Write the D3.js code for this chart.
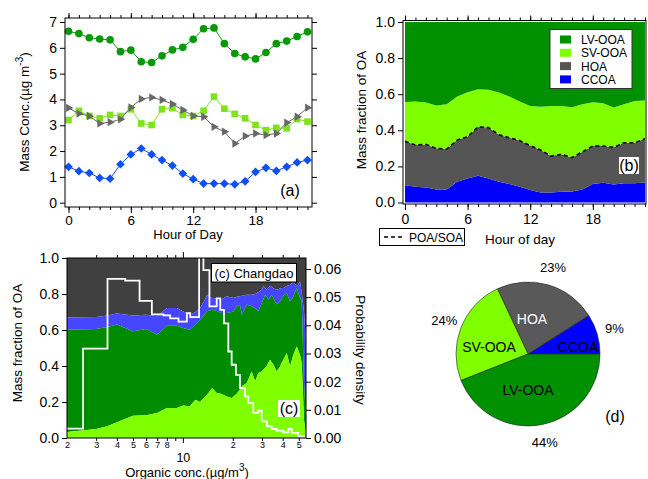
<!DOCTYPE html>
<html>
<head>
<meta charset="utf-8">
<script src="https://cdn.jsdelivr.net/npm/d3@7"></script>
<style>
  body { margin: 0; background: #fff; }
  svg { font-family: "Liberation Sans", Arial, sans-serif; }
</style>
</head>
<body>
<svg id="fig" width="648" height="479"></svg>
<script>
// ---------- data ----------
// (a) diurnal mass concentrations, ug m-3
var hours = [0,1,2,3,4,5,6,7,8,9,10,11,12,13,14,15,16,17,18,19,20,21,22,23];
var lvConc   = [6.64,6.55,6.39,6.34,6.31,5.85,5.91,5.46,5.43,5.69,5.92,6.02,6.33,6.74,6.77,6.16,5.78,5.65,5.57,5.82,6.16,6.26,6.44,6.62];
var svConc   = [3.20,3.56,3.36,3.27,3.40,3.36,3.62,3.07,3.01,3.62,3.66,3.40,3.36,3.56,4.11,3.64,3.44,3.27,3.01,2.81,2.90,2.88,3.24,3.14];
var hoaConc  = [3.67,3.45,3.36,3.07,3.12,3.23,3.69,4.02,4.08,3.98,3.82,3.59,3.36,3.33,2.94,2.75,2.29,2.58,2.68,2.62,2.68,3.10,3.33,3.68];
var ccoaConc = [1.39,1.22,1.15,0.96,0.93,1.49,1.87,2.10,1.87,1.65,1.44,1.13,0.91,0.74,0.74,0.74,0.71,0.83,1.19,1.35,1.23,1.39,1.56,1.65];

// (b) diurnal mass fractions
var ccoaFrac = [.096,.087,.083,.072,.072,.115,.133,.148,.133,.115,.102,.087,.069,.056,.056,.059,.061,.072,.102,.109,.100,.106,.107,.111];
var hoaFrac  = [.243,.232,.239,.228,.224,.231,.232,.271,.282,.261,.257,.256,.246,.235,.201,.208,.187,.209,.211,.204,.206,.225,.224,.243];
var svFrac   = [.218,.240,.232,.237,.248,.241,.246,.209,.209,.233,.228,.216,.220,.240,.278,.268,.280,.263,.243,.237,.220,.213,.232,.211];
var lvFrac   = [.443,.441,.446,.463,.456,.413,.389,.372,.376,.391,.413,.441,.465,.469,.465,.465,.472,.456,.444,.450,.474,.456,.437,.435];

// (c) fractions vs organic concentration (cumulative layer tops)
var orgConc  = [2,3,3.5,4,5,6,7,8,9.2,10,11,11.9,12.7,13.6,14,15,16,17,18.4,19.7,20.2,21.1,22.1,22.7,24.3,26,27.3,28.5,29.9,30.6,31.3,32,32.8,33.6,34.4,35.2,36.8,38.6,39.5,40.4,42.3,44.3,46.4,48.6,50.9,52.1,53.8,55.3];
var svTop    = [.033,.05,.065,.087,.124,.126,.139,.167,.167,.18,.176,.213,.20,.23,.24,.278,.25,.246,.23,.222,.23,.246,.27,.287,.305,.37,.315,.361,.37,.38,.39,.398,.42,.435,.42,.407,.37,.398,.42,.435,.472,.398,.463,.509,.463,.417,.1,.02];
var lvTop    = [.602,.605,.617,.63,.593,.605,.574,.624,.624,.611,.602,.63,.657,.69,.704,.713,.705,.694,.694,.70,.704,.73,.74,.685,.741,.731,.72,.704,.75,.77,.796,.785,.769,.78,.796,.775,.741,.76,.778,.79,.806,.759,.787,.833,.778,.76,.3,.1];
var ccoaTop  = [.67,.672,.68,.691,.68,.685,.676,.722,.722,.704,.685,.70,.722,.77,.796,.778,.775,.769,.787,.78,.778,.785,.787,.79,.796,.796,.80,.81,.824,.846,.835,.824,.835,.846,.84,.83,.824,.83,.833,.833,.845,.852,.87,.843,.87,.806,.7,.53];
// probability density histogram
var pdfEdges   = [2.0,2.5,3.51,4.49,5.48,6.5,7.64,8.38,9.41,10.57,11.07,12.53,13.3,14.46,16.0,16.8,17.7,18.8,19.7,20.9,22.1,23.7,24.8,26.6,28.5,29.9,32.1,34.4,36.8,40.4,43.3,45.4,49.7,54.5];
var pdfDensity = [.0033,.0317,.0565,.0559,.0487,.0439,.0435,.0425,.0413,.0443,.0429,.068,.0596,.0467,.0496,.0455,.0407,.0307,.026,.0224,.0177,.0148,.0124,.0089,.0097,.0059,.0041,.0032,.0026,.002,.0032,.0018,.0006];

// (d) average composition, %
var pieNames = ["CCOA","HOA","SV-OOA","LV-OOA"];
var piePct   = [9,23,24,44];

// ---------- helpers ----------
var FONT = '"Liberation Sans", Arial, sans-serif';
var svg = d3.select("#fig");

function styleAxis(g, size) {
  g.select(".domain").remove();
  g.attr("font-family", FONT).attr("font-size", size || 14);
  g.selectAll("line").attr("stroke", "#000");
  g.selectAll("text").attr("fill", "#000");
}
function frame(x0, y0, x1, y1) {
  svg.append("rect").attr("x", x0).attr("y", y0)
    .attr("width", x1 - x0).attr("height", y1 - y0)
    .attr("fill", "none").attr("stroke", "#000").attr("stroke-width", 1);
}
function label(x, y, txt, size, rot, anchor) {
  var t = svg.append("text").attr("font-size", size).attr("text-anchor", anchor || "middle")
    .attr("transform", "translate(" + x + "," + y + ")" + (rot ? " rotate(" + rot + ")" : ""));
  t.text(txt);
  return t;
}
var majorH = [0, 6, 12, 18];

// ---------- panel (a) ----------
var ax = d3.scaleLinear().domain([0, 23]).range([68.5, 307.5]);
var ay = d3.scaleLinear().domain([0, 7]).range([202.7, 22]);

var seriesA = [
  { v: lvConc,   color: "#079907", sym: d3.symbolCircle, size: 46, rot: 0 },
  { v: svConc,   color: "#7fe31c", sym: d3.symbolSquare, size: 44, rot: 0 },
  { v: hoaConc,  color: "#686868", sym: d3.symbolTriangle, size: 30, rot: 90 },
  { v: ccoaConc, color: "#0f4ff5", sym: d3.symbolSquare, size: 38, rot: 45 }
];
seriesA.forEach(function (s) {
  var line = d3.line().x(function (d, i) { return ax(hours[i]); }).y(function (d) { return ay(d); });
  svg.append("path").attr("d", line(s.v)).attr("fill", "none").attr("stroke", s.color).attr("stroke-width", 1);
  svg.append("g").selectAll("path").data(s.v).enter().append("path")
    .attr("d", d3.symbol().type(s.sym).size(s.size))
    .attr("transform", function (d, i) { return "translate(" + ax(hours[i]) + "," + ay(d) + ") rotate(" + s.rot + ")"; })
    .attr("fill", s.color);
});
frame(65, 18, 312, 207);
svg.append("g").attr("transform", "translate(65,0)")
  .call(d3.axisLeft(ay).tickValues([0,1,2,3,4,5,6,7]).tickSize(5).tickPadding(3).tickFormat(d3.format("d")))
  .call(styleAxis);
svg.append("g").attr("transform", "translate(312,0)")
  .call(d3.axisRight(ay).tickValues([0,1,2,3,4,5,6,7]).tickSize(5).tickFormat(""))
  .call(styleAxis);
svg.append("g").attr("transform", "translate(0,207)")
  .call(d3.axisBottom(ax).tickValues(hours).tickSize(3).tickFormat("")).call(styleAxis);
svg.append("g").attr("transform", "translate(0,207)")
  .call(d3.axisBottom(ax).tickValues(majorH).tickSize(6).tickPadding(2))
  .call(function (g) { styleAxis(g, 13.5); });
svg.append("g").attr("transform", "translate(0,18)")
  .call(d3.axisTop(ax).tickValues(hours).tickSize(3).tickFormat("")).call(styleAxis);
svg.append("g").attr("transform", "translate(0,18)")
  .call(d3.axisTop(ax).tickValues(majorH).tickSize(5).tickFormat("")).call(styleAxis);
label(188, 239, "Hour of Day", 13);
var ya = label(29, 112, "Mass Conc.(\u00b5g m", 13.5, -90);
ya.append("tspan").attr("dy", -6).attr("font-size", 10).text("-3");
ya.append("tspan").attr("dy", 6).text(")");
label(290, 196, "(a)", 16);

// ---------- panel (b) ----------
var bx = d3.scaleLinear().domain([0, 23]).range([405, 645]);
var by = d3.scaleLinear().domain([0, 1]).range([202.5, 22]);
var rowsB = hours.map(function (h, i) {
  return { h: h, ccoa: ccoaFrac[i], hoa: hoaFrac[i], sv: svFrac[i], lv: lvFrac[i] };
});
var keysB = ["ccoa", "hoa", "sv", "lv"];
var colB = { ccoa: "#0000ff", hoa: "#555555", sv: "#80ff00", lv: "#009000" };
var stackB = d3.stack().keys(keysB)(rowsB);
var areaB = d3.area().x(function (d) { return bx(d.data.h); })
  .y0(function (d) { return by(d[0]); }).y1(function (d) { return by(d[1]); });
svg.append("g").selectAll("path").data(stackB).enter().append("path")
  .attr("d", areaB).attr("fill", function (d) { return colB[d.key]; });
var poaLine = d3.line().x(function (d) { return bx(d.data.h); }).y(function (d) { return by(d[1]); });
svg.append("path").attr("d", poaLine(stackB[1])).attr("fill", "none")
  .attr("stroke", "#000").attr("stroke-width", 1.5).attr("stroke-dasharray", "4,3");
frame(403, 20.5, 646, 204);
svg.append("g").attr("transform", "translate(403,0)")
  .call(d3.axisLeft(by).tickValues([0, .2, .4, .6, .8, 1]).tickSize(5).tickPadding(3).tickFormat(d3.format(".1f")))
  .call(styleAxis);
svg.append("g").attr("transform", "translate(0,204)")
  .call(d3.axisBottom(bx).tickValues(hours).tickSize(3).tickFormat("")).call(styleAxis);
svg.append("g").attr("transform", "translate(0,204)")
  .call(d3.axisBottom(bx).tickValues(majorH).tickSize(6).tickPadding(4)).call(styleAxis);
svg.append("g").attr("transform", "translate(0,20.5)")
  .call(d3.axisTop(bx).tickValues(hours).tickSize(3).tickFormat("")).call(styleAxis);
svg.append("g").attr("transform", "translate(0,20.5)")
  .call(d3.axisTop(bx).tickValues(majorH).tickSize(5).tickFormat("")).call(styleAxis);
label(520, 244, "Hour of day", 13.5);
label(366, 110, "Mass fraction of OA", 13.5, -90);

// legend (b)
var legB = [["LV-OOA", "lv"], ["SV-OOA", "sv"], ["HOA", "hoa"], ["CCOA", "ccoa"]];
svg.append("rect").attr("x", 550).attr("y", 29.5).attr("width", 82).attr("height", 59)
  .attr("fill", "#fff").attr("stroke", "#333");
legB.forEach(function (l, i) {
  var yy = 39.5 + i * 13.3;
  svg.append("rect").attr("x", 560).attr("y", yy - 4).attr("width", 11).attr("height", 8).attr("fill", colB[l[1]]);
  label(581, yy + 4.5, l[0], 12, 0, "start");
});
svg.append("rect").attr("x", 619).attr("y", 157).attr("width", 20).attr("height", 17).attr("fill", "#fff");
label(629, 171, "(b)", 16);
// POA/SOA key
svg.append("rect").attr("x", 379.5).attr("y", 228.5).attr("width", 85).attr("height", 17)
  .attr("fill", "#fff").attr("stroke", "#000");
svg.append("line").attr("x1", 384).attr("x2", 405).attr("y1", 237).attr("y2", 237)
  .attr("stroke", "#000").attr("stroke-width", 1.5).attr("stroke-dasharray", "4,3");
label(409, 241.5, "POA/SOA", 12, 0, "start");

// ---------- panel (c) ----------
var cx = d3.scaleLog().domain([2, 55.3]).range([67, 306]);
var cy = d3.scaleLinear().domain([0, 1]).range([438, 258]);
var cyR = d3.scaleLinear().domain([0, 0.0639]).range([438, 258]);
svg.append("clipPath").attr("id", "clipC").append("rect")
  .attr("x", 67).attr("y", 258).attr("width", 239).attr("height", 180);
var gc = svg.append("g").attr("clip-path", "url(#clipC)");
var layersC = [
  { lo: function (i) { return ccoaTop[i]; }, hi: function () { return 1; }, color: "#404040" },
  { lo: function (i) { return lvTop[i]; },   hi: function (i) { return ccoaTop[i]; }, color: "#4646ff" },
  { lo: function (i) { return svTop[i]; },   hi: function (i) { return lvTop[i]; }, color: "#008c00" },
  { lo: function () { return 0; },           hi: function (i) { return svTop[i]; }, color: "#80ff00" }
];
layersC.forEach(function (L) {
  var a = d3.area().x(function (d) { return cx(d); })
    .y0(function (d, i) { return cy(L.lo(i)); }).y1(function (d, i) { return cy(L.hi(i)); });
  gc.append("path").attr("d", a(orgConc)).attr("fill", L.color);
});
var pdfPts = pdfEdges.map(function (e, i) {
  return [e, i < pdfDensity.length ? pdfDensity[i] : pdfDensity[pdfDensity.length - 1]];
});
gc.append("path")
  .attr("d", d3.line().curve(d3.curveStepAfter).x(function (d) { return cx(d[0]); }).y(function (d) { return cyR(d[1]); })(pdfPts))
  .attr("fill", "none").attr("stroke", "#fff").attr("stroke-width", 1.8);
frame(67, 258, 306, 438);
svg.append("g").attr("transform", "translate(67,0)")
  .call(d3.axisLeft(cy).tickValues([0, .2, .4, .6, .8, 1]).tickSize(5).tickPadding(3).tickFormat(d3.format(".1f")))
  .call(styleAxis);
svg.append("g").attr("transform", "translate(306,0)")
  .call(d3.axisRight(cyR).tickValues([0, .01, .02, .03, .04, .05, .06]).tickSize(5).tickPadding(3).tickFormat(d3.format(".2f")))
  .call(styleAxis);
var minorC = [3, 4, 5, 6, 7, 8, 9, 20, 30, 40, 50];
var labC = [2, 3, 4, 5, 6, 7, 8, 20, 30, 40, 50];
svg.append("g").attr("transform", "translate(0,438)")
  .call(d3.axisBottom(cx).tickValues(minorC).tickSize(3).tickFormat("")).call(styleAxis);
svg.append("g").attr("transform", "translate(0,438)")
  .call(d3.axisBottom(cx).tickValues(labC).tickSize(0).tickPadding(4)
    .tickFormat(function (d) { return d >= 10 ? d / 10 : d; }))
  .call(function (g) { styleAxis(g, 9); });
svg.append("g").attr("transform", "translate(0,438)")
  .call(d3.axisBottom(cx).tickValues([10]).tickSize(5).tickPadding(10).tickFormat(d3.format("d")))
  .call(function (g) { styleAxis(g, 12.5); });
svg.append("g").attr("transform", "translate(0,258)")
  .call(d3.axisTop(cx).tickValues(minorC).tickSize(3).tickFormat("")).call(styleAxis);
svg.append("g").attr("transform", "translate(0,258)")
  .call(d3.axisTop(cx).tickValues([10]).tickSize(6).tickFormat("")).call(styleAxis);
var xc = label(187, 477, "Organic conc.(\u00b5g/m", 13);
xc.append("tspan").attr("dy", -6).attr("font-size", 10).text("3");
xc.append("tspan").attr("dy", 6).text(")");
label(22, 343, "Mass fraction of OA", 13.5, -90);
label(356, 350, "Probability density", 13.5, 90);
svg.append("rect").attr("x", 211.5).attr("y", 263.5).attr("width", 85).attr("height", 18.5)
  .attr("fill", "#fff").attr("stroke", "#000");
label(254, 277.5, "(c) Changdao", 13);
svg.append("rect").attr("x", 278).attr("y", 400).attr("width", 22).attr("height", 17).attr("fill", "#fff");
label(289, 414, "(c)", 16);

// ---------- panel (d) ----------
var pcx = 528, pcy = 354, pr = 72;
var colD = { "CCOA": "#0000ff", "HOA": "#595959", "SV-OOA": "#80ff00", "LV-OOA": "#009000" };
var pie = d3.pie().sort(null).startAngle(Math.PI / 2).endAngle(Math.PI / 2 - 2 * Math.PI);
var arcs = pie(piePct);
var arc = d3.arc().innerRadius(0).outerRadius(pr);
var outArc = d3.arc().innerRadius(90).outerRadius(90);
var gd = svg.append("g").attr("transform", "translate(" + pcx + "," + pcy + ")");
gd.selectAll("path").data(arcs).enter().append("path")
  .attr("d", arc).attr("fill", function (d, i) { return colD[pieNames[i]]; })
  .attr("stroke", "#222").attr("stroke-width", 0.6);
gd.selectAll("text.pct").data(arcs).enter().append("text").attr("class", "pct")
  .attr("transform", function (d) { return "translate(" + outArc.centroid(d) + ")"; })
  .attr("text-anchor", "middle").attr("dy", "0.35em").attr("font-size", 13)
  .text(function (d) { return d.data + "%"; });
var inPos = { "CCOA": [50, -7], "HOA": [4, -35], "SV-OOA": [-39, -7], "LV-OOA": [0, 36] };
pieNames.forEach(function (n) {
  gd.append("text").attr("x", inPos[n][0]).attr("y", inPos[n][1]).attr("dy", "0.35em")
    .attr("text-anchor", "middle").attr("font-size", 14)
    .attr("fill", n === "HOA" ? "#fff" : "#000").text(n);
});
label(615, 422, "(d)", 16);
</script>
</body>
</html>
